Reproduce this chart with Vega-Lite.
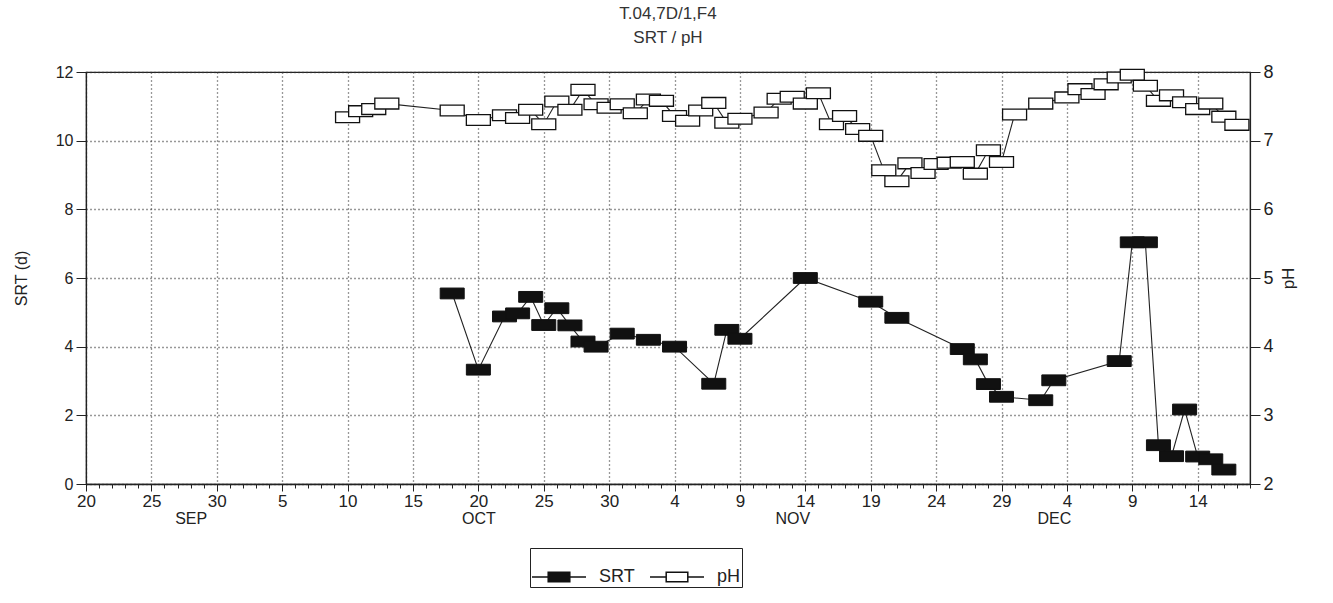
{
  "$schema": "https://vega.github.io/schema/vega-lite/v6.json",
  "width": 1164,
  "height": 412,
  "autosize": {"type": "none"},
  "padding": {"left": 86, "top": 72, "right": 83, "bottom": 119},
  "background": "white",
  "title": {"text": ["T.04,7D/1,F4", "SRT / pH"], "fontSize": 17, "font": "Liberation Sans", "fontWeight": "normal", "color": "#333", "lineHeight": 24, "offset": 16, "anchor": "middle"},
  "config": {
    "font": "Liberation Sans",
    "view": {"stroke": "#222", "strokeWidth": 1.2},
    "axis": {"labelFont": "Liberation Sans", "titleFont": "Liberation Sans", "labelColor": "#222", "titleColor": "#222", "tickColor": "#222", "domainColor": "#222", "titleFontWeight": "normal", "gridColor": "#333", "gridDash": [1, 3], "gridWidth": 1.3, "gridOpacity": 1}
  },
  "datasets": {
    "srt": [
      {"date": "1993-10-18", "srt": 5.55},
      {"date": "1993-10-20", "srt": 3.33},
      {"date": "1993-10-22", "srt": 4.88},
      {"date": "1993-10-23", "srt": 4.97},
      {"date": "1993-10-24", "srt": 5.45},
      {"date": "1993-10-25", "srt": 4.63},
      {"date": "1993-10-26", "srt": 5.12},
      {"date": "1993-10-27", "srt": 4.62},
      {"date": "1993-10-28", "srt": 4.15},
      {"date": "1993-10-29", "srt": 4.0},
      {"date": "1993-10-31", "srt": 4.38},
      {"date": "1993-11-02", "srt": 4.2},
      {"date": "1993-11-04", "srt": 4.0},
      {"date": "1993-11-07", "srt": 2.92},
      {"date": "1993-11-08", "srt": 4.49},
      {"date": "1993-11-09", "srt": 4.23},
      {"date": "1993-11-14", "srt": 6.0},
      {"date": "1993-11-19", "srt": 5.31},
      {"date": "1993-11-21", "srt": 4.84},
      {"date": "1993-11-26", "srt": 3.93},
      {"date": "1993-11-27", "srt": 3.63},
      {"date": "1993-11-28", "srt": 2.91},
      {"date": "1993-11-29", "srt": 2.54},
      {"date": "1993-12-02", "srt": 2.44},
      {"date": "1993-12-03", "srt": 3.02},
      {"date": "1993-12-08", "srt": 3.58},
      {"date": "1993-12-09", "srt": 7.04},
      {"date": "1993-12-10", "srt": 7.04},
      {"date": "1993-12-11", "srt": 1.13},
      {"date": "1993-12-12", "srt": 0.81},
      {"date": "1993-12-13", "srt": 2.17},
      {"date": "1993-12-14", "srt": 0.8},
      {"date": "1993-12-15", "srt": 0.72},
      {"date": "1993-12-16", "srt": 0.42}
    ],
    "ph": [
      {"date": "1993-10-10", "ph": 7.34},
      {"date": "1993-10-11", "ph": 7.43},
      {"date": "1993-10-12", "ph": 7.46},
      {"date": "1993-10-13", "ph": 7.54},
      {"date": "1993-10-18", "ph": 7.44},
      {"date": "1993-10-20", "ph": 7.3},
      {"date": "1993-10-22", "ph": 7.37},
      {"date": "1993-10-23", "ph": 7.33},
      {"date": "1993-10-24", "ph": 7.45},
      {"date": "1993-10-25", "ph": 7.24},
      {"date": "1993-10-26", "ph": 7.57},
      {"date": "1993-10-27", "ph": 7.45},
      {"date": "1993-10-28", "ph": 7.74},
      {"date": "1993-10-29", "ph": 7.53},
      {"date": "1993-10-30", "ph": 7.48},
      {"date": "1993-10-31", "ph": 7.53},
      {"date": "1993-11-01", "ph": 7.4},
      {"date": "1993-11-02", "ph": 7.6},
      {"date": "1993-11-03", "ph": 7.58},
      {"date": "1993-11-04", "ph": 7.36},
      {"date": "1993-11-05", "ph": 7.29},
      {"date": "1993-11-06", "ph": 7.44},
      {"date": "1993-11-07", "ph": 7.55},
      {"date": "1993-11-08", "ph": 7.26},
      {"date": "1993-11-09", "ph": 7.32},
      {"date": "1993-11-11", "ph": 7.41},
      {"date": "1993-11-12", "ph": 7.61},
      {"date": "1993-11-13", "ph": 7.64},
      {"date": "1993-11-14", "ph": 7.54},
      {"date": "1993-11-15", "ph": 7.69},
      {"date": "1993-11-16", "ph": 7.24},
      {"date": "1993-11-17", "ph": 7.36},
      {"date": "1993-11-18", "ph": 7.17},
      {"date": "1993-11-19", "ph": 7.07},
      {"date": "1993-11-20", "ph": 6.57},
      {"date": "1993-11-21", "ph": 6.41},
      {"date": "1993-11-22", "ph": 6.67},
      {"date": "1993-11-23", "ph": 6.53},
      {"date": "1993-11-24", "ph": 6.66},
      {"date": "1993-11-25", "ph": 6.68},
      {"date": "1993-11-26", "ph": 6.69},
      {"date": "1993-11-27", "ph": 6.52},
      {"date": "1993-11-28", "ph": 6.86},
      {"date": "1993-11-29", "ph": 6.69},
      {"date": "1993-11-30", "ph": 7.38},
      {"date": "1993-12-02", "ph": 7.54},
      {"date": "1993-12-04", "ph": 7.63},
      {"date": "1993-12-05", "ph": 7.75},
      {"date": "1993-12-06", "ph": 7.68},
      {"date": "1993-12-07", "ph": 7.82},
      {"date": "1993-12-08", "ph": 7.92},
      {"date": "1993-12-09", "ph": 7.96},
      {"date": "1993-12-10", "ph": 7.8},
      {"date": "1993-12-11", "ph": 7.58},
      {"date": "1993-12-12", "ph": 7.66},
      {"date": "1993-12-13", "ph": 7.56},
      {"date": "1993-12-14", "ph": 7.46},
      {"date": "1993-12-15", "ph": 7.54},
      {"date": "1993-12-16", "ph": 7.35},
      {"date": "1993-12-17", "ph": 7.23}
    ]
  },
  "layer": [
    {
      "data": {"name": "srt"},
      "encoding": {
        "x": {
          "field": "date", "type": "temporal",
          "scale": {"type": "utc", "domain": [{"year": 1993, "month": 9, "date": 20, "utc": true}, {"year": 1993, "month": 12, "date": 18, "utc": true}]},
          "axis": {
            "orient": "bottom", "title": null,
            "values": [
              {"year": 1993, "month": 9, "date": 20, "utc": true},
              {"year": 1993, "month": 9, "date": 25, "utc": true},
              {"year": 1993, "month": 9, "date": 30, "utc": true},
              {"year": 1993, "month": 10, "date": 5, "utc": true},
              {"year": 1993, "month": 10, "date": 10, "utc": true},
              {"year": 1993, "month": 10, "date": 15, "utc": true},
              {"year": 1993, "month": 10, "date": 20, "utc": true},
              {"year": 1993, "month": 10, "date": 25, "utc": true},
              {"year": 1993, "month": 10, "date": 30, "utc": true},
              {"year": 1993, "month": 11, "date": 4, "utc": true},
              {"year": 1993, "month": 11, "date": 9, "utc": true},
              {"year": 1993, "month": 11, "date": 14, "utc": true},
              {"year": 1993, "month": 11, "date": 19, "utc": true},
              {"year": 1993, "month": 11, "date": 24, "utc": true},
              {"year": 1993, "month": 11, "date": 29, "utc": true},
              {"year": 1993, "month": 12, "date": 4, "utc": true},
              {"year": 1993, "month": 12, "date": 9, "utc": true},
              {"year": 1993, "month": 12, "date": 14, "utc": true}
            ],
            "labelExpr": "utcFormat(datum.value, '%-d')",
            "grid": true, "tickSize": 7, "domainWidth": 1.5,
            "labelFontSize": 17, "labelPadding": 2, "labelOverlap": false, "labelFlush": false
          }
        },
        "y": {
          "field": "srt", "type": "quantitative",
          "scale": {"domain": [0, 12], "nice": false},
          "axis": {"orient": "left", "values": [0, 2, 4, 6, 8, 10, 12], "grid": true, "tickSize": 10, "labelFontSize": 16, "labelPadding": 3, "title": "SRT (d)", "titleFontSize": 16, "titlePadding": 26, "domainWidth": 1.2}
        }
      },
      "layer": [
        {"mark": {"type": "line", "color": "#222", "strokeWidth": 1.1}},
        {
          "mark": {"type": "point", "shape": "M-1,-0.45H1V0.45H-1Z", "size": 576, "filled": true, "stroke": "#111", "strokeWidth": 1, "opacity": 1},
          "encoding": {
            "fill": {
              "datum": "SRT", "type": "nominal",
              "scale": {"domain": ["SRT", "pH"], "range": ["#111", "white"]},
              "legend": {
                "orient": "none", "legendX": 444, "legendY": 476, "direction": "horizontal", "title": null,
                "symbolType": "M-1,0H-0.4M0.4,0H1M-0.4,-0.18H0.4V0.18H-0.4Z",
                "symbolSize": 2916, "symbolStrokeColor": "#111", "symbolStrokeWidth": 1.5, "symbolOpacity": 1,
                "labelFontSize": 18, "labelColor": "#222", "labelFont": "Liberation Sans",
                "columnPadding": 12, "labelOffset": 12, "padding": 1, "strokeColor": "#222", "fillColor": "white"
              }
            }
          }
        }
      ]
    },
    {
      "data": {"name": "ph"},
      "encoding": {
        "x": {
          "field": "date", "type": "temporal",
          "axis": {
            "orient": "bottom", "title": null, "domain": false, "grid": false,
            "tickCount": {"interval": "day", "step": 1},
            "tickSize": 4,
            "labelExpr": "utcFormat(datum.value,'%m%d') === '0928' ? 'SEP' : utcFormat(datum.value,'%m%d') === '1020' ? 'OCT' : utcFormat(datum.value,'%m%d') === '1113' ? 'NOV' : utcFormat(datum.value,'%m%d') === '1203' ? 'DEC' : ''",
            "labelFontSize": 16, "labelPadding": 22, "labelOverlap": false, "labelFlush": false, "labelBound": false
          }
        },
        "y": {
          "field": "ph", "type": "quantitative",
          "scale": {"domain": [2, 8], "nice": false},
          "axis": {"orient": "right", "values": [2, 3, 4, 5, 6, 7, 8], "grid": false, "tickSize": 10, "labelFontSize": 18, "labelPadding": 3, "title": "pH", "titleAngle": 270, "titleFontSize": 17, "titlePadding": 24, "domainWidth": 1.2}
        }
      },
      "layer": [
        {"mark": {"type": "line", "color": "#222", "strokeWidth": 1.1}},
        {
          "mark": {"type": "point", "shape": "M-1,-0.45H1V0.45H-1Z", "size": 576, "filled": true, "stroke": "#111", "strokeWidth": 1.3, "opacity": 1},
          "encoding": {"fill": {"datum": "pH", "type": "nominal"}}
        }
      ]
    }
  ],
  "resolve": {"scale": {"y": "independent"}, "axis": {"x": "independent"}}
}
